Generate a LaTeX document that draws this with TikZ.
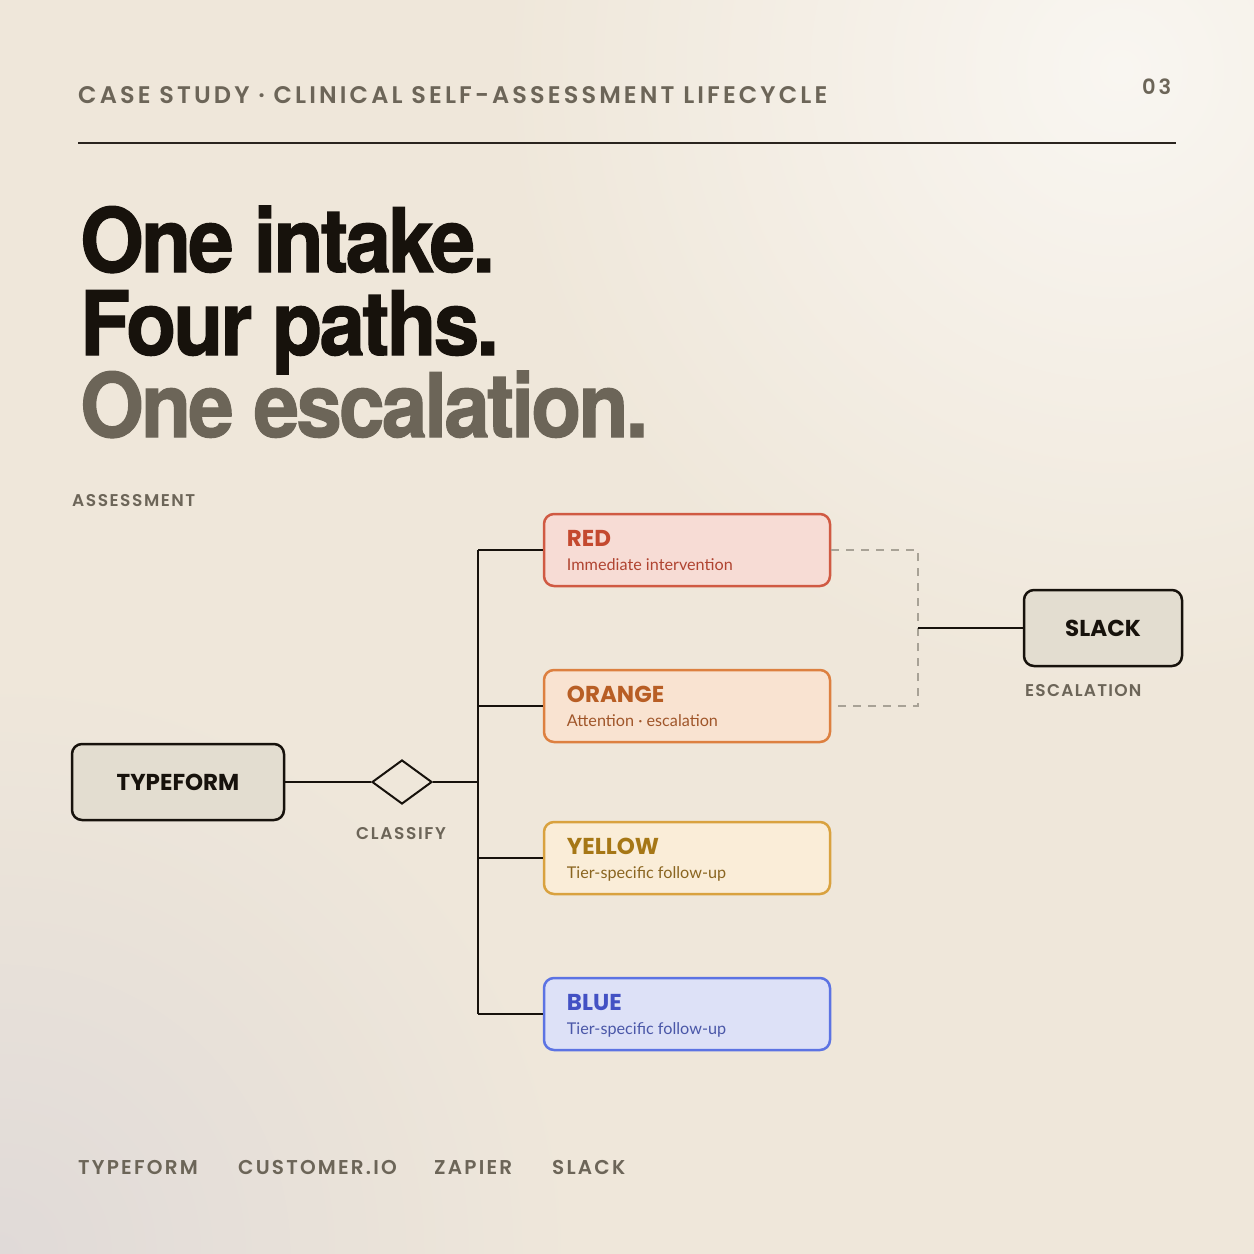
\documentclass[tikz,border=0pt]{standalone}
\usepackage{fontspec}
\usetikzlibrary{shapes.geometric,calc}
\newfontfamily\titlef{TeX Gyre Heros}[FakeStretch=0.92, LetterSpace=-3.2, FakeBold=1.2]
\newfontfamily\popm{Poppins SemiBold}
\newfontfamily\pop{Poppins}
\newfontfamily\subf{Lato}
\definecolor{bg}{HTML}{EFE7DA}
\definecolor{glow}{HTML}{F9F6F1}
\definecolor{shade}{HTML}{E0DAD8}
\definecolor{ink}{HTML}{17120C}
\definecolor{mute}{HTML}{6C6558}
\definecolor{rule}{HTML}{2A241E}
\definecolor{gbox}{HTML}{E3DDD0}
\definecolor{dash}{HTML}{A8A296}
\definecolor{redB}{HTML}{D05A43}\definecolor{redF}{HTML}{F7DCD5}\definecolor{redT}{HTML}{C4492F}\definecolor{redS}{HTML}{B04431}
\definecolor{orB}{HTML}{DD8040}\definecolor{orF}{HTML}{F9E3D1}\definecolor{orT}{HTML}{B85E25}\definecolor{orS}{HTML}{A0562A}
\definecolor{yeB}{HTML}{D9A23F}\definecolor{yeF}{HTML}{FAEDD8}\definecolor{yeT}{HTML}{A67716}\definecolor{yeS}{HTML}{8A6520}
\definecolor{blB}{HTML}{5C73E3}\definecolor{blF}{HTML}{DDE1F7}\definecolor{blT}{HTML}{4351C4}\definecolor{blS}{HTML}{4A57A8}
\tikzset{
  lbl/.style={anchor=base west, inner sep=0, text=mute},
  tierbox/.style={draw=#1B, fill=#1F, line width=2.5pt, rounded corners=10pt, minimum width=286pt, minimum height=72pt, inner sep=0},
  graybox/.style={draw=ink, fill=gbox, line width=2.5pt, rounded corners=10pt, inner sep=0, font=\pop\bfseries\fontsize{23}{23}\selectfont, text=ink},
  tiertitle/.style={anchor=base west, inner sep=0, font=\pop\bfseries\fontsize{23}{23}\selectfont},
  tiersub/.style={anchor=base west, inner sep=0, font=\subf\fontsize{16.2}{16.2}\selectfont},
  wire/.style={draw=ink, line width=2pt},
  dashwire/.style={draw=dash, line width=2pt, dash pattern=on 8pt off 7pt},
  titleline/.style={anchor=base west, inner sep=0, font=\titlef\bfseries\fontsize{89}{89}\selectfont}
}
\begin{document}
\begin{tikzpicture}[x=1pt,y=-1pt]
\useasboundingbox (0,0) rectangle (1254,1254);
\fill[bg] (0,0) rectangle (1254,1254);
\begin{scope}
\clip (0,0) rectangle (1254,1254);
\shade[inner color=glow, outer color=bg] (1120,70) circle (620);
\shade[inner color=shade, outer color=bg] (0,1254) circle (580);
\end{scope}
% header
\node[lbl, font=\popm\addfontfeature{LetterSpace=13}\fontsize{24}{24}\selectfont] (hdr) at (78,103) {CASE STUDY · CLINICAL SELF-ASSESSMENT LIFECYCLE};
\node[lbl, font=\popm\addfontfeature{LetterSpace=14}\fontsize{21}{21}\selectfont] (num) at (1142,94) {03};
\coordinate (rl) at (78,143);
\coordinate (rr) at (1176,143);
\draw[rule, line width=2pt] (rl) -- (rr);
% title
\node[titleline, text=ink] (t1) at (80,272) {One intake.};
\node[titleline, text=ink] (t2) at (80,355) {Four paths.};
\node[titleline, text=mute] (t3) at (80,437) {One escalation.};
% section label
\node[lbl, font=\popm\addfontfeature{LetterSpace=9}\fontsize{17}{17}\selectfont] (ass) at (72,506) {ASSESSMENT};
% typeform
\node[graybox, minimum width=212pt, minimum height=76pt] (tf) at (178,782) {TYPEFORM};
\node[diamond, draw=ink, line width=2pt, minimum width=60pt, minimum height=44pt, inner sep=0] (cls) at (402,782) {};
\node[anchor=base, inner sep=0, text=mute, font=\popm\addfontfeature{LetterSpace=9.6}\fontsize{17}{17}\selectfont] (clsl) at (401,839) {CLASSIFY};
\coordinate (jn) at (478,782);
% tier boxes
\node[tierbox=red] (red) at (687,550) {};
\node[tierbox=or] (orange) at (687,706) {};
\node[tierbox=ye] (yellow) at (687,858) {};
\node[tierbox=bl] (blue) at (687,1014) {};
\node[tiertitle, text=redT] (redt) at ($(red.north west)+(24,34)$) {RED};
\node[tiersub, text=redS] (reds) at ($(red.north west)+(24,58)$) {Immediate intervention};
\node[tiertitle, text=orT] (ort) at ($(orange.north west)+(24,34)$) {ORANGE};
\node[tiersub, text=orS] (ors) at ($(orange.north west)+(24,58)$) {Attention · escalation};
\node[tiertitle, text=yeT] (yet) at ($(yellow.north west)+(24,34)$) {YELLOW};
\node[tiersub, text=yeS] (yes) at ($(yellow.north west)+(24,58)$) {Tier-specific follow-up};
\node[tiertitle, text=blT] (blt) at ($(blue.north west)+(24,34)$) {BLUE};
\node[tiersub, text=blS] (bls) at ($(blue.north west)+(24,58)$) {Tier-specific follow-up};
% slack
\node[graybox, minimum width=158pt, minimum height=76pt] (slack) at (1103,628) {SLACK};
\node[lbl, font=\popm\addfontfeature{LetterSpace=7.3}\fontsize{17}{17}\selectfont] (escl) at (1025,696) {ESCALATION};
\coordinate (esc) at (918,628);
% wires
\draw[wire] (tf.east) -- (cls.west);
\draw[wire] (cls.east) -- (jn);
\draw[wire] (jn |- red.west) -- (jn |- blue.west);
\draw[wire] (jn |- red.west) -- (red.west);
\draw[wire] (jn |- orange.west) -- (orange.west);
\draw[wire] (jn |- yellow.west) -- (yellow.west);
\draw[wire] (jn |- blue.west) -- (blue.west);
\draw[dashwire] (red.east) -| (esc) |- (orange.east);
\draw[wire] (esc) -- (slack.west);
% footer
\node[lbl, font=\popm\addfontfeature{LetterSpace=11}\fontsize{20}{20}\selectfont] (f1) at (78,1174) {TYPEFORM};
\node[lbl, font=\popm\addfontfeature{LetterSpace=11}\fontsize{20}{20}\selectfont] (f2) at (238,1174) {CUSTOMER.IO};
\node[lbl, font=\popm\addfontfeature{LetterSpace=11}\fontsize{20}{20}\selectfont] (f3) at (434,1174) {ZAPIER};
\node[lbl, font=\popm\addfontfeature{LetterSpace=11}\fontsize{20}{20}\selectfont] (f4) at (552,1174) {SLACK};
\end{tikzpicture}
\end{document}
